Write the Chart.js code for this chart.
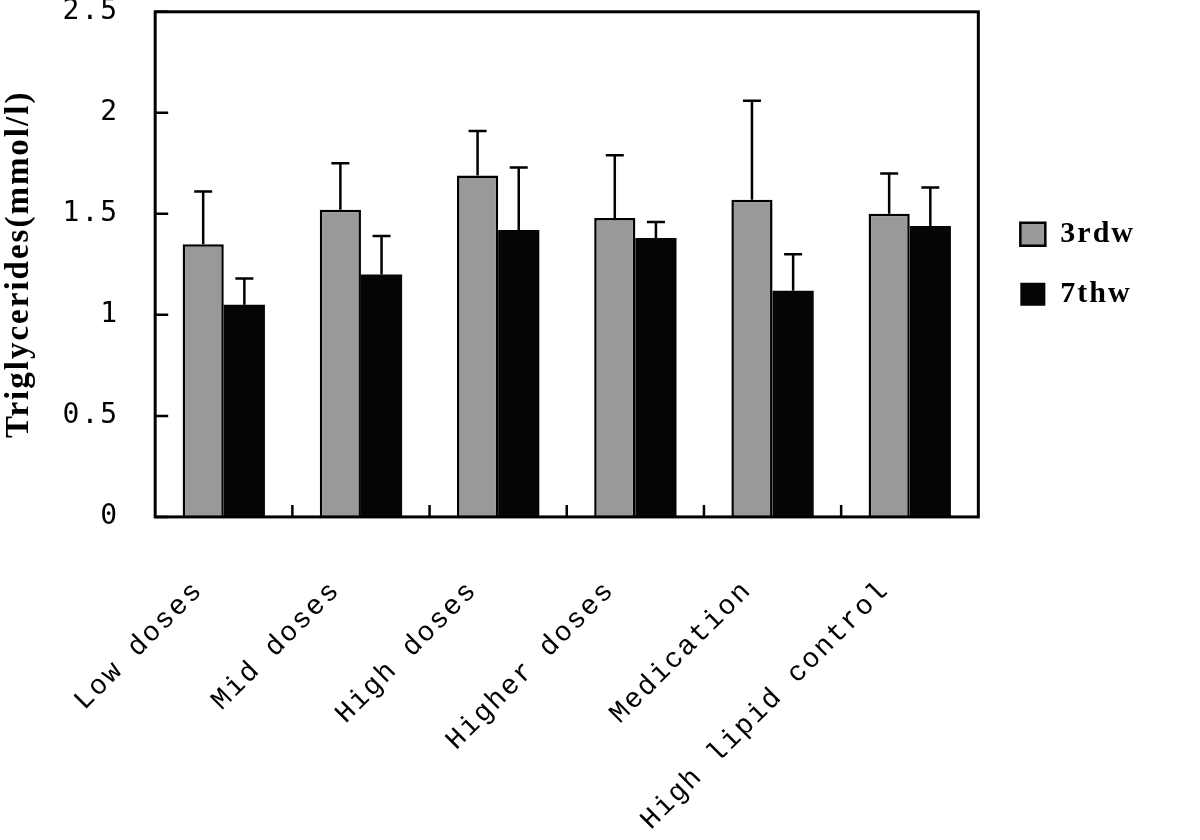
<!DOCTYPE html>
<html>
<head>
<meta charset="utf-8">
<script src="https://cdn.jsdelivr.net/npm/chart.js@4.4.0/dist/chart.umd.min.js"></script>
<style>
  html, body { margin: 0; padding: 0; background: #fff; }
  #wrap { width: 1200px; height: 840px; }
</style>
</head>
<body>
<div id="wrap"><canvas id="chart" width="1200" height="840"></canvas></div>
<script>
// ---------------- Data ----------------
const groups = ["Low doses", "Mid doses", "High doses", "Higher doses", "Medication", "High lipid control"];
const week3 = [1.35, 1.52, 1.69, 1.48, 1.57, 1.50];
const week3Sd = [0.26, 0.23, 0.22, 0.31, 0.49, 0.20];
const week7 = [1.05, 1.20, 1.42, 1.38, 1.12, 1.44];
const week7Sd = [0.13, 0.19, 0.31, 0.08, 0.18, 0.19];
const seriesNames = ["3rdw", "7thw"];
const yTicks = [0, 0.5, 1, 1.5, 2, 2.5];

// ---------------- Plugin: error bars, frame, inner ticks ----------------
const framePlugin = {
  id: "framePlugin",
  beforeUpdate(chart) { chart.ctx.letterSpacing = "2px"; },
  beforeDraw(chart) { chart.ctx.letterSpacing = "2px"; },
  afterLayout(chart) {
    // legend: a bit further from the plot, centred on the plot height
    const lg = chart.legend;
    if (lg) {
      lg.left += 12;
      lg.right += 12;
      lg.top = chart.chartArea.top;
      lg.bottom = chart.chartArea.bottom;
      lg.height = lg.bottom - lg.top;
    }
  },
  afterDatasetsDraw(chart) {
    const ctx = chart.ctx;
    const area = chart.chartArea;
    const xs = chart.scales.x, ys = chart.scales.y;
    ctx.save();
    ctx.strokeStyle = "#000";
    ctx.lineWidth = 2.5;

    // upper error bars
    [week3Sd, week7Sd].forEach((sd, di) => {
      const meta = chart.getDatasetMeta(di);
      const vals = chart.data.datasets[di].data;
      meta.data.forEach((bar, i) => {
        const top = ys.getPixelForValue(vals[i] + sd[i]);
        ctx.beginPath();
        ctx.moveTo(bar.x, bar.y);
        ctx.lineTo(bar.x, top);
        ctx.moveTo(bar.x - 9, top);
        ctx.lineTo(bar.x + 9, top);
        ctx.stroke();
      });
    });

    // box round the plot
    ctx.lineWidth = 3;
    ctx.strokeRect(area.left, area.top, area.right - area.left, area.bottom - area.top);

    // ticks pointing inwards
    ctx.lineWidth = 2.5;
    ctx.beginPath();
    yTicks.forEach(v => {
      const py = ys.getPixelForValue(v);
      ctx.moveTo(area.left, py);
      ctx.lineTo(area.left + 13, py);
    });
    for (let i = 1; i < groups.length; i++) {
      const px = (xs.getPixelForValue(i - 1) + xs.getPixelForValue(i)) / 2;
      ctx.moveTo(px, area.bottom);
      ctx.lineTo(px, area.bottom - 12);
    }
    ctx.stroke();
    ctx.restore();
  }
};

// ---------------- Chart ----------------
const ctx = document.getElementById("chart").getContext("2d");
const chart = new Chart(ctx, {
  type: "bar",
  data: {
    labels: groups,
    datasets: [
      {
        label: seriesNames[0],
        data: week3,
        backgroundColor: "#999999",
        borderColor: "#000",
        borderWidth: 2.5,
        categoryPercentage: 0.6,
        barPercentage: 1.0,
      },
      {
        label: seriesNames[1],
        data: week7,
        backgroundColor: "#050505",
        borderColor: "#050505",
        borderWidth: 0,
        categoryPercentage: 0.6,
        barPercentage: 1.0,
      },
    ],
  },
  options: {
    responsive: false,
    animation: false,
    devicePixelRatio: 1,
    layout: { padding: { top: 0, right: 67, left: 0, bottom: 3 } },
    plugins: {
      tooltip: { enabled: false },
      legend: {
        position: "right",
        align: "center",
        labels: {
          color: "#000",
          boxWidth: 25,
          boxHeight: 23,
          padding: 30,
          font: { family: "'Liberation Serif', serif", size: 30, weight: "bold" },
        },
      },
    },
    scales: {
      x: {
        grid: { display: false, drawTicks: true, tickLength: 57 },
        border: { display: false },
        ticks: {
          color: "#000",
          autoSkip: false,
          minRotation: 45,
          maxRotation: 45,
          padding: 0,
          labelOffset: -25,
          font: { family: "'Liberation Mono', monospace", size: 28 },
        },
      },
      y: {
        min: 0,
        max: 2.5,
        grid: { display: false, drawTicks: true, tickLength: 34 },
        border: { display: false },
        afterBuildTicks: s => { s.ticks = yTicks.map(v => ({ value: v })); },
        ticks: {
          color: "#000",
          padding: 2,
          callback: v => String(v),
          font: { family: "'DejaVu Sans Mono', monospace", size: 28, lineHeight: 0.7 },
        },
        title: {
          display: true,
          text: "Triglycerides(mmol/l)",
          color: "#000",
          padding: { top: 0, bottom: 21 },
          font: { family: "'Liberation Serif', serif", size: 33, weight: "bold" },
        },
      },
    },
  },
  plugins: [framePlugin],
});
</script>
</body>
</html>
